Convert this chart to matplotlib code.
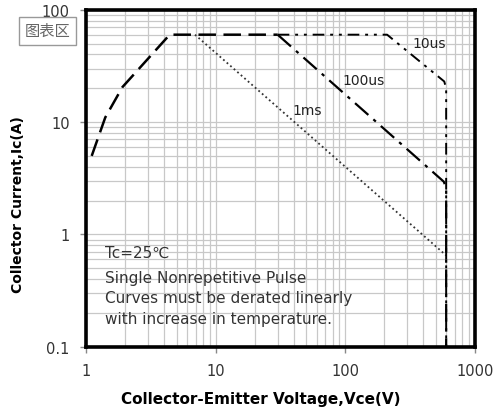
import matplotlib.pyplot as plt
from matplotlib.ticker import LogLocator, FixedLocator, NullFormatter

plt.rcParams['font.family'] = ['DejaVu Sans', 'Noto Sans CJK SC']

# rising edge (common to all pulses)
rise_v = [1.1, 1.4, 1.9, 4.4, 30]
rise_i = [5.0, 11.0, 20.5, 60, 60]

# 1ms
ms1_v = [6.9, 600]
ms1_i = [60, 0.65]

# 100us
us100_v = [30, 575, 600, 600]
us100_i = [60, 2.95, 2.6, 0.1]

# 10us
us10_v = [30, 210, 580, 600, 600]
us10_i = [60, 60, 23, 20, 0.1]

labels = ['10us', '100us', '1ms']
label_v = [440, 138, 51]
label_i = [51, 23.5, 12.7]

notes = ['Tc=25\u2103', 'Single Nonrepetitive Pulse',
         'Curves must be derated linearly', 'with increase in temperature.']

fig = plt.figure(figsize=(5.02, 4.14), dpi=100)
ax = fig.add_axes([0.172, 0.16, 0.774, 0.814])

ax.plot(rise_v, rise_i, color='black', lw=1.8, dashes=(7, 3))
ax.plot(ms1_v, ms1_i, color='#333333', lw=1.3, ls=(0, (1, 1.6)))
ax.plot(us100_v, us100_i, color='black', lw=1.6, dashes=(8, 3, 1.5, 3))
ax.plot(us10_v, us10_i, color='black', lw=1.4, dashes=(6, 3, 1.5, 3, 1.5, 3))

for t, x, y in zip(labels, label_v, label_i):
    ax.text(x, y, t, fontsize=10, ha='center', va='center', color='#222222')

ax.set_xscale('log')
ax.set_yscale('log')
ax.set_xlim(1, 1000)
ax.set_ylim(0.1, 100)
ax.xaxis.set_major_locator(FixedLocator([1, 10, 100, 1000]))
ax.yaxis.set_major_locator(FixedLocator([0.1, 1, 10, 100]))
ax.set_xticklabels(['1', '10', '100', '1000'])
ax.set_yticklabels(['0.1', '1', '10', '100'])
ax.xaxis.set_minor_locator(LogLocator(base=10, subs=range(2, 10)))
ax.yaxis.set_minor_locator(LogLocator(base=10, subs=range(2, 10)))
ax.xaxis.set_minor_formatter(NullFormatter())
ax.yaxis.set_minor_formatter(NullFormatter())
ax.grid(True, which='both', color='#c8c8c8', lw=0.9)
ax.tick_params(which='minor', length=0)
ax.tick_params(which='major', length=4, width=1, color='#888888',
               labelsize=10.5, labelcolor='#333333', pad=8)

for s in ax.spines.values():
    s.set_linewidth(2.6)
    s.set_color('black')

ax.set_xlabel('Collector-Emitter Voltage,Vce(V)', fontsize=11,
              fontweight='bold')
ax.xaxis.set_label_coords(0.45, -0.13)
ax.set_ylabel('Collector Current,Ic(A)', fontsize=10,
              fontweight='bold')
ax.yaxis.set_label_coords(-0.158, 0.424)

for k, t in enumerate(notes):
    ax.text(0.047, 0.28 - k * 0.06 - (0.015 if k else 0), t,
            transform=ax.transAxes, fontsize=11, color='#333333',
            va='center', ha='left')

fig.text(0.095, 0.923, '图表区', fontsize=11, color='#666666', ha='center',
         va='center', family=['Noto Sans CJK SC', 'DejaVu Sans'],
         bbox=dict(boxstyle='square,pad=0.35', fc='white', ec='#999999', lw=1))

fig.savefig('out.png', dpi=100)
